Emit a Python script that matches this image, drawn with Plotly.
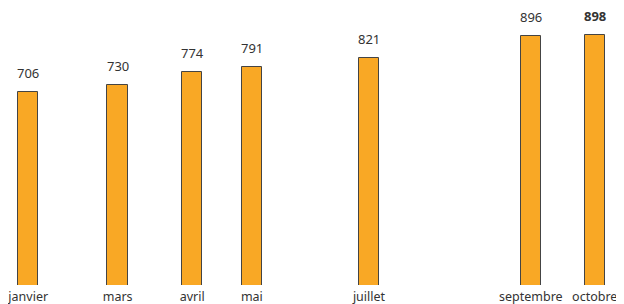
import plotly.graph_objects as go

months = ["janvier", "mars", "avril", "mai", "juillet", "septembre", "octobre"]
dates = ["2024-01-12", "2024-02-23", "2024-03-29", "2024-04-26", "2024-06-20", "2024-09-04", "2024-10-04"]
values = [706, 730, 774, 791, 821, 896, 898]

DAY = 86400000
FONT = "Noto Sans"
fig = go.Figure()
fig.add_trace(go.Bar(
    x=dates, y=values,
    width=[9.6 * DAY] * len(values),
    marker=dict(color="#F9A825", line=dict(color="#444444", width=1)),
    hoverinfo="skip",
))

best = max(values)
for d, v in zip(dates, values):
    fig.add_annotation(
        x=d, y=v, text=f"<b>{v}</b>" if v == best else str(v),
        showarrow=False, yanchor="bottom", yshift=8,
        font=dict(family=FONT, size=13, color="#333333"),
    )

fig.update_layout(
    width=624, height=304,
    margin=dict(l=0, r=0, t=0, b=27, pad=0, autoexpand=False),
    paper_bgcolor="white", plot_bgcolor="white",
    showlegend=False,
    bargap=0,
    xaxis=dict(
        type="date",
        range=["2024-01-02 12:00", "2024-10-21 12:00"],
        tickmode="array", tickvals=dates, ticktext=months,
        showgrid=False, zeroline=False, showline=False, ticks="",
        tickfont=dict(family=FONT, size=12.5, color="#333333"),
        ticklabeloverflow="allow",
        ticklabelstandoff=2,
        automargin=False,
    ),
    yaxis=dict(range=[51.4, 989.4], visible=False, fixedrange=True, automargin=False),
)
fig.write_html("out.html")
